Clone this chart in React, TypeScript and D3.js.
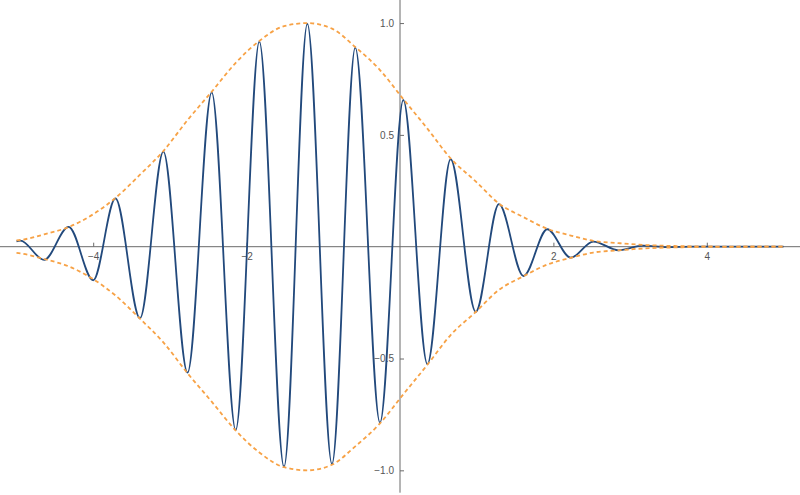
import React, { useEffect, useRef } from "react";
import * as d3 from "d3";

// extrema of the wave packet
const waveX = [-5, -4.95, -4.64, -4.32, -4.0, -3.71, -3.39, -3.085, -2.77, -2.455, -2.142, -1.834, -1.512, -1.208, -0.887, -0.583, -0.261, 0.043, 0.357, 0.66, 0.987, 1.29, 1.61, 1.92, 2.226, 2.52, 2.85, 3.17, 3.48, 3.8, 5];
const waveY = [0.024, 0.027, -0.059, 0.089, -0.15, 0.216, -0.32, 0.425, -0.563, 0.69, -0.82, 0.917, -0.984, 0.996, -0.972, 0.89, -0.787, 0.656, -0.525, 0.391, -0.291, 0.19, -0.131, 0.078, -0.049, 0.023, -0.016, 0.005, -0.002, 0.0005, 0];

// envelope magnitude (drawn as +env and -env)
const envX = [-5, -4.95, -4.64, -4.32, -4.0, -3.71, -3.39, -3.085, -2.77, -2.455, -2.142, -1.834, -1.512, -1.208, -0.887, -0.583, -0.261, 0.043, 0.357, 0.66, 0.987, 1.29, 1.61, 1.92, 2.226, 2.52, 2.85, 3.17, 3.6, 4.2, 5];
const envY = [0.028, 0.03, 0.055, 0.088, 0.145, 0.218, 0.322, 0.428, 0.566, 0.693, 0.822, 0.92, 0.986, 1.0, 0.975, 0.893, 0.79, 0.66, 0.528, 0.395, 0.292, 0.193, 0.132, 0.08, 0.05, 0.026, 0.016, 0.008, 0.003, 0.0006, 0];

const xMajorTicks = [-4, -2, 2, 4];
const xMinorTicks = [-5, -4.5, -3.5, -3, -2.5, -1.5, -1, -0.5, 0.5, 1, 1.5, 2.5, 3, 3.5, 4.5, 5];
const yMajorTicks = [-1, -0.5, 0.5, 1];
const yMinorTicks = [-1.1, -0.9, -0.8, -0.7, -0.6, -0.4, -0.3, -0.2, -0.1, 0.1, 0.2, 0.3, 0.4, 0.6, 0.7, 0.8, 0.9, 1.1];

const W = 800;
const H = 495;

const fmtX = (d: number) => (d < 0 ? "\u2212" + Math.abs(d) : String(d));
const fmtY = (d: number) => (d < 0 ? "\u2212" : "") + Math.abs(d).toFixed(1);

export default function App() {
  const svgRef = useRef<SVGSVGElement>(null);

  useEffect(() => {
    const svg = d3.select(svgRef.current);
    svg.selectAll("*").remove();

    const x = d3.scaleLinear().domain([-5.215, 5.215]).range([0, W]);
    const y = d3.scaleLinear().domain([-1.1, 1.1]).range([492.7, 0.7]);

    const axisColor = "#6b6b6b";
    const labelColor = "#555";

    // axes lines
    svg.append("line")
      .attr("x1", 0).attr("x2", W)
      .attr("y1", y(0)).attr("y2", y(0))
      .attr("stroke", axisColor).attr("stroke-width", 1);
    svg.append("line")
      .attr("x1", x(0)).attr("x2", x(0))
      .attr("y1", 0).attr("y2", y(-1.1))
      .attr("stroke", axisColor).attr("stroke-width", 1);

    // x ticks
    const gx = svg.append("g").attr("transform", `translate(0,${y(0)})`);
    gx.call(
      d3.axisBottom(x).tickValues(xMinorTicks).tickSizeInner(-2.5).tickSizeOuter(0).tickFormat(() => "")
    );
    gx.call(
      d3.axisBottom(x).tickValues(xMajorTicks).tickSizeInner(-4).tickSizeOuter(0).tickPadding(6).tickFormat((d) => fmtX(+d))
    );

    // y ticks
    const gy = svg.append("g").attr("transform", `translate(${x(0)},0)`);
    gy.call(
      d3.axisLeft(y).tickValues(yMinorTicks).tickSizeInner(-2.5).tickSizeOuter(0).tickFormat(() => "")
    );
    gy.call(
      d3.axisLeft(y).tickValues(yMajorTicks).tickSizeInner(-4).tickSizeOuter(0).tickPadding(6).tickFormat((d) => fmtY(+d))
    );

    svg.selectAll(".domain").remove();
    svg.selectAll(".tick line").attr("stroke", axisColor);
    svg.selectAll(".tick text")
      .attr("fill", labelColor)
      .attr("font-family", "'Liberation Sans', Arial, sans-serif")
      .attr("font-size", 10);

    // wave packet
    const wave = waveX.map((d, i) => [d, waveY[i]] as [number, number]);
    const line = d3.line<[number, number]>()
      .x((d) => x(d[0]))
      .y((d) => y(d[1]))
      .curve(d3.curveMonotoneX);

    svg.append("path")
      .datum(wave)
      .attr("d", line)
      .attr("fill", "none")
      .attr("stroke", "#22497c")
      .attr("stroke-width", 1.8);

    // dashed envelopes
    const upper = envX.map((d, i) => [d, envY[i]] as [number, number]);
    const lower = envX.map((d, i) => [d, -envY[i]] as [number, number]);
    [upper, lower].forEach((env) => {
      svg.append("path")
        .datum(env)
        .attr("d", line)
        .attr("fill", "none")
        .attr("stroke", "#f7a246")
        .attr("stroke-width", 1.8)
        .attr("stroke-dasharray", "4,3");
    });
  }, []);

  return (
    <svg
      ref={svgRef}
      width={W}
      height={H}
      style={{ position: "absolute", left: 0, top: 0, background: "#fff" }}
    ></svg>
  );
}
